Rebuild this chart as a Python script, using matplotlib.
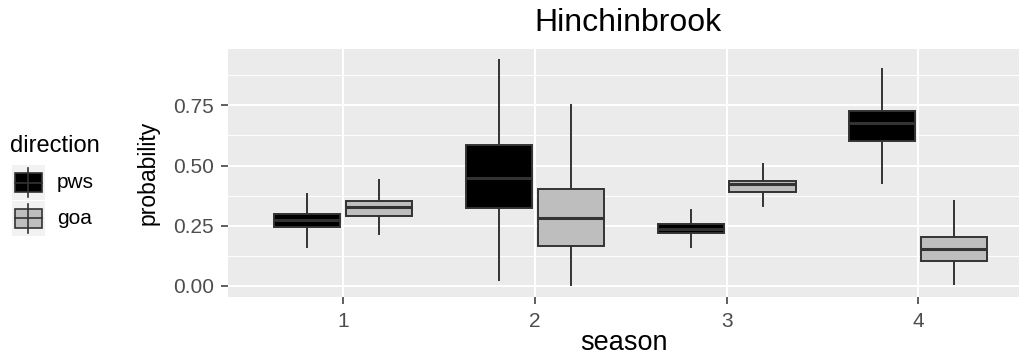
import numpy as np
import matplotlib.pyplot as plt
from matplotlib.patches import Rectangle

plt.rcParams['font.family'] = ['Liberation Sans', 'DejaVu Sans']

seasons = [1, 2, 3, 4]
directions = ['pws', 'goa']
fill_colors = {'pws': '#000000', 'goa': '#bebebe'}

# lower whisker, q1, median, q3, upper whisker per season
pws_low = [0.161, 0.025, 0.161, 0.427]
pws_q1 = [0.243, 0.323, 0.219, 0.604]
pws_med = [0.275, 0.448, 0.238, 0.677]
pws_q3 = [0.300, 0.584, 0.258, 0.725]
pws_high = [0.383, 0.940, 0.316, 0.899]

goa_low = [0.216, 0.004, 0.330, 0.007]
goa_q1 = [0.291, 0.164, 0.390, 0.105]
goa_med = [0.326, 0.282, 0.423, 0.154]
goa_q3 = [0.351, 0.403, 0.437, 0.203]
goa_high = [0.441, 0.753, 0.506, 0.351]

stats_by_dir = {
    'pws': (pws_low, pws_q1, pws_med, pws_q3, pws_high),
    'goa': (goa_low, goa_q1, goa_med, goa_q3, goa_high),
}

W, H = 1020, 358
fig = plt.figure(figsize=(W / 100, H / 100), dpi=100)
ax = fig.add_axes([228 / W, 1 - 297 / H, (W - 228) / W, (297 - 49) / H])
ax.set_facecolor('#ebebeb')
for s in ax.spines.values():
    s.set_visible(False)

edge = '#333333'
offsets = {'pws': -0.1875, 'goa': 0.1875}
for d in directions:
    lo, q1, med, q3, hi = stats_by_dir[d]
    stats = []
    for i in range(len(seasons)):
        stats.append(dict(whislo=lo[i], q1=q1[i], med=med[i], q3=q3[i],
                          whishi=hi[i], fliers=[]))
    pos = [s + offsets[d] for s in seasons]
    ax.bxp(stats, positions=pos, widths=0.345, patch_artist=True,
           showcaps=False, showfliers=False, manage_ticks=False,
           boxprops=dict(facecolor=fill_colors[d], edgecolor=edge, linewidth=1.4),
           whiskerprops=dict(color=edge, linewidth=1.4),
           medianprops=dict(color=edge, linewidth=2.2))

ax.set_xlim(0.4, 4.53)
ax.set_ylim(-0.0458, 0.984)
ax.set_xticks(seasons)
ax.set_xticklabels([str(s) for s in seasons])
ax.set_yticks([0, 0.25, 0.5, 0.75])
ax.set_yticklabels(['0.00', '0.25', '0.50', '0.75'])
ax.set_yticks([0.125, 0.375, 0.625, 0.875], minor=True)
ax.set_axisbelow(True)
ax.grid(which='major', color='white', linewidth=1.4)
ax.grid(which='minor', axis='y', color='white', linewidth=0.7)
ax.tick_params(axis='both', which='major', length=5, width=1.1, color=edge,
               labelcolor='#4d4d4d', labelsize=15, pad=5)
ax.tick_params(axis='x', which='major', pad=6)
ax.tick_params(axis='y', which='minor', length=0)

ax.set_xlabel('season', fontsize=19.5, color='black')
ax.xaxis.set_label_coords(0.5, -0.135)
ax.set_ylabel('probability', fontsize=16.5, color='black')
ax.yaxis.set_label_coords(-0.087, 0.5)

fig.text(628 / W, 1 - 23 / H, 'Hinchinbrook', fontsize=23, ha='center',
         va='center', color='black')

# legend
fig.text(10 / W, 1 - 146 / H, 'direction', fontsize=17, ha='left',
         va='center', color='black')
lax = fig.add_axes([10 / W, 1 - 237 / H, 38 / W, 74 / H])
lax.set_xlim(10, 48)
lax.set_ylim(237, 163)
lax.axis('off')
key_tops = {'pws': 165, 'goa': 201}
label_y = {'pws': 183, 'goa': 219}
for d in directions:
    t = key_tops[d]
    lax.add_patch(Rectangle((12, t), 33, 35, facecolor='#f2f2f2', edgecolor='none'))
    lax.plot([28.5, 28.5], [t + 3, t + 32], color=edge, lw=1.2)
    lax.add_patch(Rectangle((15, t + 8), 27, 19, facecolor=fill_colors[d],
                            edgecolor=edge, lw=1.2))
    lax.plot([15, 42], [t + 17.5, t + 17.5], color=edge, lw=1.2)
    fig.text(57 / W, 1 - label_y[d] / H, d, fontsize=15, ha='left',
             va='center', color='black')

fig.savefig('out.png', dpi=100)
